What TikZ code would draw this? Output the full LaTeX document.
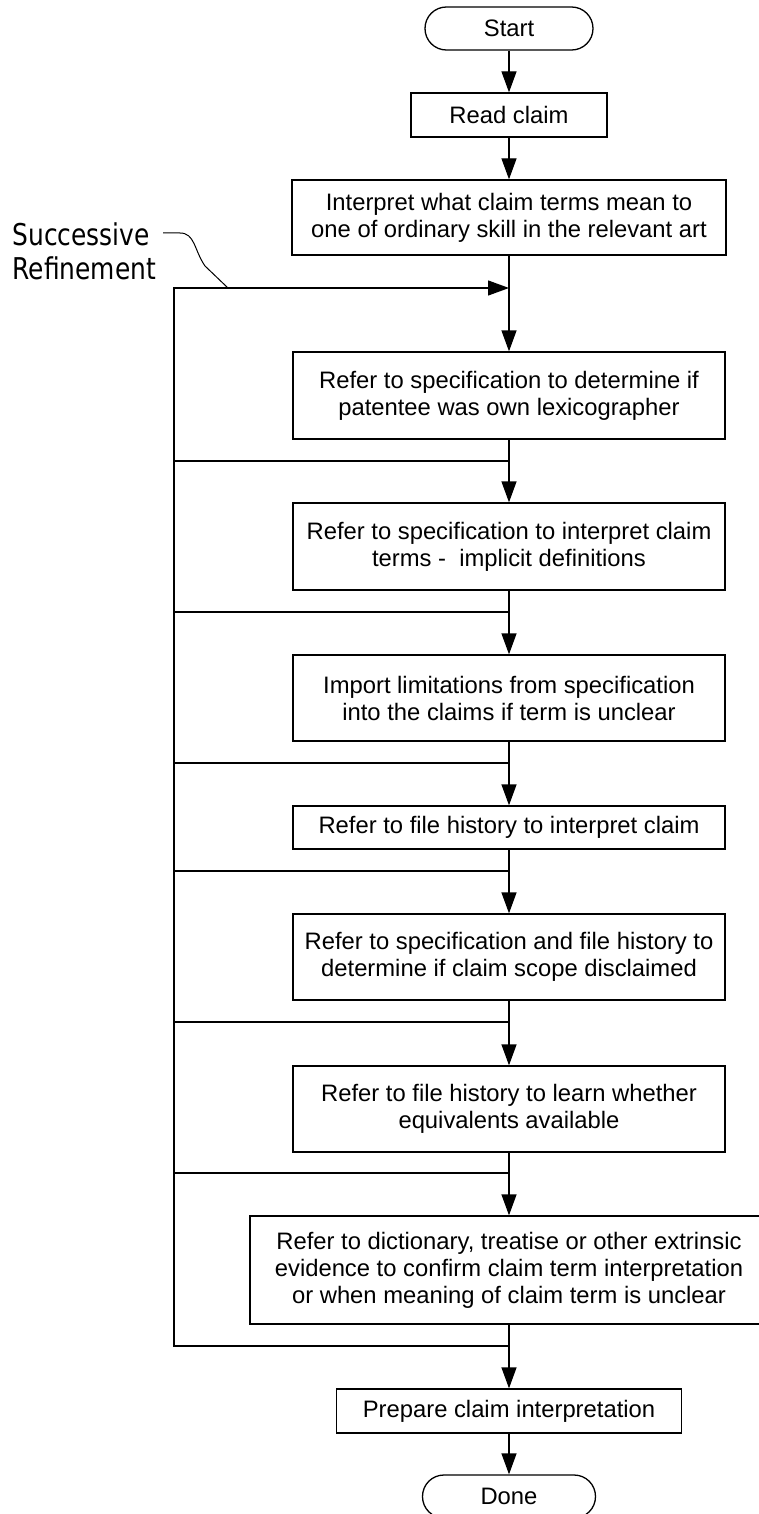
\documentclass[tikz,border=0pt]{standalone}
\usepackage{fontspec}
\setmainfont{Liberation Sans}
\newfontfamily\calloutfont[FakeStretch=0.83]{DejaVu Sans}
\usetikzlibrary{arrows.meta}
\begin{document}
\begin{tikzpicture}[x=0.5pt,y=-0.5pt, line width=0.65pt,
  box/.style={draw, rectangle, align=center, inner sep=0pt, font=\fontsize{11.9}{13.5}\selectfont},
  wide/.style={box, minimum width=216pt},
  term/.style={box, rounded corners=10.7pt},
  arr/.style={-{Triangle[length=10.5pt,width=7.5pt]}},
  loopline/.style={line width=0.65pt},
  callline/.style={line width=0.5pt}
]
\useasboundingbox (0,0) rectangle (759,1514);
% nodes
\node[term, minimum width=84pt, minimum height=21.5pt] (start) at (509,28.5) {Start};
\node[box, minimum width=98pt, minimum height=22pt] (read) at (509,115) {Read claim};
\node[wide, minimum width=217pt, minimum height=37.5pt] (interp) at (509,217.5) {Interpret what claim terms mean to\\one of ordinary skill in the relevant art};
\node[wide, minimum height=43.5pt] (b1) at (509,395.5) {Refer to specification to determine if\\patentee was own lexicographer};
\node[wide, minimum height=43.5pt] (b2) at (509,546.5) {Refer to specification to interpret claim\\terms -\ \ implicit definitions};
\node[wide, minimum height=43pt] (b3) at (509,698) {Import limitations from specification\\into the claims if term is unclear};
\node[wide, minimum height=21.5pt] (b4) at (509,827.5) {Refer to file history to interpret claim};
\node[wide, minimum height=43pt] (b5) at (509,957) {Refer to specification and file history to\\determine if claim scope disclaimed};
\node[wide, minimum height=43pt] (b6) at (509,1109) {Refer to file history to learn whether\\equivalents available};
\node[box, minimum width=259pt, minimum height=54pt] (b7) at (509,1270) {Refer to dictionary, treatise or other extrinsic\\evidence to confirm claim term interpretation\\or when meaning of claim term is unclear};
\node[box, minimum width=172.5pt, minimum height=22pt] (prep) at (509,1411) {Prepare claim interpretation};
\node[term, minimum width=86.5pt, minimum height=21.5pt] (done) at (509,1496.5) {Done};
\node[anchor=base west, align=left, inner sep=0pt, font=\calloutfont\fontsize{15}{17}\selectfont] (callout) at (12,279) {Successive\\Refinement};
% coordinates
\coordinate (j0) at (509,288);
\coordinate (lt) at (174,288);
\coordinate (jb) at (509,1346);
\coordinate (lb) at (174,1346);
\foreach \n/\y in {1/461,2/612,3/763,4/871,5/1022,6/1173}{
  \coordinate (l\n) at (174,\y);
  \coordinate (j\n) at (509,\y);
}
\coordinate (ct) at (163,233);
\coordinate (cb) at (228,288);
% main flow
\draw[arr] (start) -- (read);
\draw[arr] (read) -- (interp);
\draw[arr] (interp) -- (b1);
\draw[arr] (b1) -- (b2);
\draw[arr] (b2) -- (b3);
\draw[arr] (b3) -- (b4);
\draw[arr] (b4) -- (b5);
\draw[arr] (b5) -- (b6);
\draw[arr] (b6) -- (b7);
\draw[arr] (b7) -- (prep);
\draw[arr] (prep) -- (done);
% refinement loop
\draw[arr] (jb) -- (lb) -- (lt) -- (j0);
\foreach \n in {1,...,6}{ \draw[loopline] (l\n) -- (j\n); }
% callout
\draw[callline] (ct) -- (180,233) .. controls (195,233) and (194,250) .. (205,266) -- (cb);
\end{tikzpicture}
\end{document}
